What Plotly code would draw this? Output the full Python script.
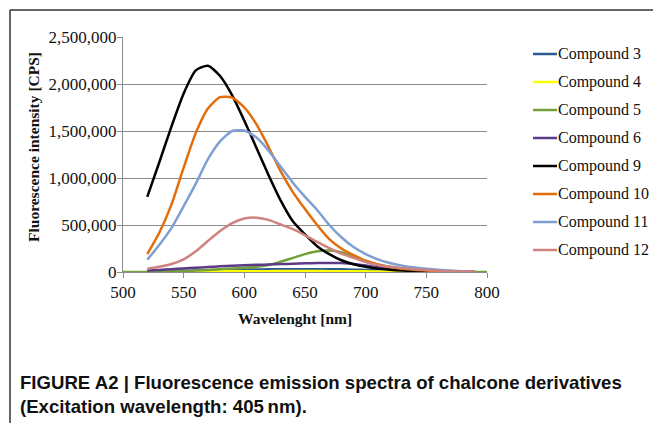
import plotly.graph_objects as go

# ---------------- data ----------------
wl_main = [520, 530, 540, 550, 560, 570, 580, 590, 600, 610, 620, 630, 640, 650, 660,
           670, 680, 690, 700, 710, 720, 730, 740, 750, 760, 770, 780, 790]
wl_c5 = [500, 510] + wl_main + [800]

c3 = [5000, 7000, 10000, 12000, 15000, 17000, 20000, 22000, 25000, 27000, 28000, 29000, 30000, 30000, 30000,
      29000, 28000, 25000, 22000, 18000, 15000, 12000, 9000, 7000, 5000, 3000, 2000, 1000]
c4 = [2000, 3000, 3000, 4000, 5000, 6000, 7000, 7000, 8000, 9000, 9000, 10000, 10000, 10000, 10000,
      9000, 9000, 8000, 7000, 6000, 5000, 4000, 3000, 2000, 2000, 1000, 1000, 500]
c5 = [0, 0, 0, 2000, 5000, 9000, 15000, 22000, 30000, 37000, 45000, 55000, 75000, 110000, 150000, 190000, 220000,
      228000, 210000, 165000, 115000, 80000, 55000, 40000, 28000, 18000, 10000, 5000, 3000, 1000, 0]
c6 = [15000, 22000, 30000, 38000, 45000, 53000, 60000, 66000, 72000, 76000, 80000, 84000, 88000, 92000, 95000,
      97000, 95000, 85000, 70000, 50000, 35000, 25000, 17000, 10000, 6000, 3000, 2000, 1000]
c9 = [800000, 1170000, 1550000, 1900000, 2145000, 2195000, 2085000, 1880000, 1610000, 1320000, 1030000, 760000,
      540000, 400000, 275000, 190000, 125000, 82000, 55000, 36000, 24000, 16000, 10000, 6000, 4000, 2000, 1000, 0]
c10 = [190000, 420000, 720000, 1110000, 1480000, 1740000, 1860000, 1855000, 1750000, 1570000, 1330000, 1070000,
       850000, 670000, 500000, 350000, 250000, 180000, 120000, 80000, 52000, 35000, 23000, 15000, 9000, 5000, 3000, 1000]
c11 = [130000, 290000, 470000, 700000, 940000, 1200000, 1390000, 1500000, 1505000, 1430000, 1290000, 1120000,
       950000, 800000, 660000, 500000, 370000, 265000, 190000, 135000, 95000, 68000, 48000, 34000, 24000, 15000, 8000, 3000]
c12 = [35000, 55000, 85000, 135000, 220000, 330000, 435000, 520000, 570000, 578000, 555000, 505000,
       455000, 390000, 320000, 255000, 195000, 150000, 105000, 75000, 55000, 40000, 30000, 21000, 14000, 9000, 5000, 2000]

names = ["Compound 3", "Compound 4", "Compound 5", "Compound 6",
         "Compound 9", "Compound 10", "Compound 11", "Compound 12"]
xs = [wl_main, wl_main, wl_c5, wl_main, wl_main, wl_main, wl_main, wl_main]
ys = [c3, c4, c5, c6, c9, c10, c11, c12]
colors = ["#2C5A93", "#FFFF00", "#74A03A", "#5B3A88", "#000000", "#E46C0A", "#7F9FD3", "#D0827F"]

x_ticks = [500, 550, 600, 650, 700, 750, 800]
y_ticks = [0, 500000, 1000000, 1500000, 2000000, 2500000]

# ---------------- layout helpers ----------------
W, H = 653, 423
ML, MT = 123, 37
PW, PH = 364, 235
MR, MB = W - ML - PW, H - MT - PH


def px_x(px):
    return (px - ML) / PW


def px_y(py):
    return (MT + PH - py) / PH


fig = go.Figure()
for n, x, y, c in zip(names, xs, ys, colors):
    fig.add_trace(go.Scatter(x=x, y=y, name=n, mode="lines", showlegend=False,
                             line=dict(color=c, width=2.5, shape="spline", smoothing=0.6)))

serif = "Liberation Serif, Times New Roman, serif"
sans = "Liberation Sans Narrow, Liberation Sans, Arial, sans-serif"

annotations = [
    dict(text="Fluorescence intensity [CPS]", xref="paper", yref="paper",
         x=px_x(33), y=px_y(147), textangle=-90, showarrow=False,
         xanchor="center", yanchor="middle",
         font=dict(family=serif, size=15.5, color="#111", weight=700)),
    dict(text="Wavelenght [nm]", xref="paper", yref="paper",
         x=px_x(295), y=px_y(318), showarrow=False, xanchor="center", yanchor="middle",
         font=dict(family=serif, size=15.5, color="#111", weight=700)),
    dict(text="FIGURE A2 | Fluorescence emission spectra of chalcone derivatives",
         xref="paper", yref="paper", x=px_x(18), y=px_y(382), showarrow=False,
         xanchor="left", yanchor="middle",
         font=dict(family=sans, size=18.6, color="#111", weight=700)),
    dict(text="(Excitation wavelength: 405\u2009nm).",
         xref="paper", yref="paper", x=px_x(18), y=px_y(406), showarrow=False,
         xanchor="left", yanchor="middle",
         font=dict(family=sans, size=18.6, color="#111", weight=700)),
]

shapes = [
    dict(type="line", xref="paper", yref="paper", x0=px_x(10), x1=px_x(660),
         y0=px_y(10), y1=px_y(10), line=dict(color="#333", width=1.5)),
    dict(type="line", xref="paper", yref="paper", x0=px_x(10), x1=px_x(10),
         y0=px_y(10), y1=px_y(430), line=dict(color="#333", width=1.5)),
]

# legend (drawn as key lines + labels)
for i, (n, c) in enumerate(zip(names, colors)):
    yy = 54 + 28 * i
    shapes.append(dict(type="line", xref="paper", yref="paper", x0=px_x(533), x1=px_x(557),
                       y0=px_y(yy), y1=px_y(yy), line=dict(color=c, width=2.5)))
    annotations.append(dict(text=n, xref="paper", yref="paper", x=px_x(556), y=px_y(yy),
                            showarrow=False, xanchor="left", yanchor="middle",
                            font=dict(family=serif, size=16, color="#111")))

fig.update_layout(
    width=W, height=H,
    margin=dict(l=ML, r=MR, t=MT, b=MB, autoexpand=False, pad=0),
    paper_bgcolor="white", plot_bgcolor="white",
    showlegend=False,
    xaxis=dict(range=[500, 800], tickvals=x_ticks, ticktext=[str(v) for v in x_ticks],
               showgrid=False, zeroline=False, showline=True, linecolor="#8c8c8c", linewidth=1,
               ticks="outside", ticklen=5, tickcolor="#8c8c8c",
               tickfont=dict(family=serif, size=17, color="#111"), fixedrange=True),
    yaxis=dict(range=[0, 2500000], tickvals=y_ticks, tickformat=",d",
               showgrid=True, gridcolor="#8c8c8c", gridwidth=1, zeroline=False,
               showline=True, linecolor="#8c8c8c", linewidth=1,
               ticks="outside", ticklen=5, tickcolor="#8c8c8c", ticklabelstandoff=-3,
               tickfont=dict(family=serif, size=17, color="#111"), fixedrange=True),
    annotations=annotations,
    shapes=shapes,
)

fig.write_html("out.html", config={"displayModeBar": False},
               post_script="document.body.style.margin='0';document.body.style.overflow='hidden';")
